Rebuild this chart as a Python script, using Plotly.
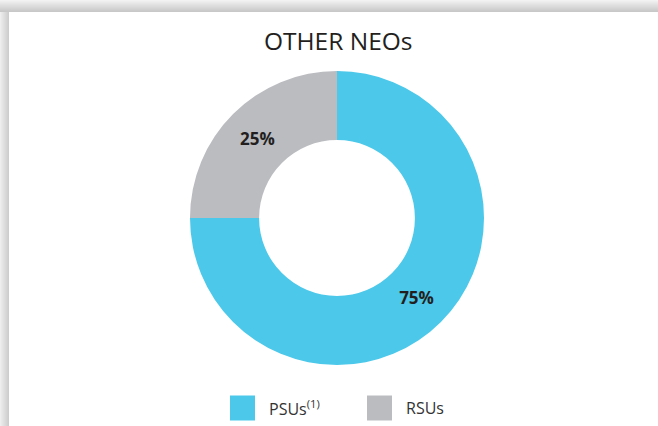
import plotly.graph_objects as go

labels = ["PSUs", "RSUs"]
legend_text = ["PSUs<sup>(1)</sup>", "RSUs"]
values = [75, 25]
colors = ["#4BC8EA", "#BBBCC0"]
title = "OTHER NEOs"

W, H = 658, 426

fig = go.Figure()
fig.add_trace(go.Pie(
    labels=labels, values=values, sort=False, direction="clockwise", rotation=0,
    hole=0.53,
    marker=dict(colors=colors, line=dict(width=0)),
    textinfo="percent", texttemplate="%{percent:.0%}",
    textposition="inside", insidetextorientation="horizontal",
    textfont=dict(family="Open Sans", size=17, color="#231F20", weight="bold"),
    domain=dict(x=[190 / W, 484 / W], y=[61 / H, 355 / H]),
    showlegend=False, hoverinfo="label+percent",
))

shapes = []
# shadow frame (top and left), approximated with graded strips
top_h, left_w = 12, 9
for i in range(top_h):
    g = int(242 - (242 - 200) * (i / (top_h - 1)))
    c = f"rgb({g},{g},{g})"
    shapes.append(dict(type="rect", xref="paper", yref="paper", x0=0, x1=1,
                       y0=1 - (i + 1) / H, y1=1 - i / H, fillcolor=c, line=dict(width=0), layer="below"))
for i in range(left_w):
    g = int(238 - (238 - 205) * (i / (left_w - 1)))
    c = f"rgb({g},{g},{g})"
    shapes.append(dict(type="rect", xref="paper", yref="paper", x0=i / W, x1=(i + 1) / W,
                       y0=0, y1=1 - top_h / H, fillcolor=c, line=dict(width=0), layer="below"))

# custom legend: squares and labels
leg_x = [230, 367]
sq = 25
yc = 408
annotations = []
for lx, col, txt in zip(leg_x, colors, legend_text):
    shapes.append(dict(type="rect", xref="paper", yref="paper",
                       x0=lx / W, x1=(lx + sq) / W, y0=(H - yc - sq / 2) / H, y1=(H - yc + sq / 2) / H,
                       fillcolor=col, line=dict(width=0)))
    annotations.append(dict(text=txt, xref="paper", yref="paper", x=(lx + sq + 12) / W, y=(H - yc) / H,
                            xanchor="left", yanchor="middle", showarrow=False,
                            font=dict(family="Open Sans", size=16, color="#333333")))

annotations.append(dict(text=title, xref="paper", yref="paper", x=338 / W, y=(H - 40) / H,
                        xanchor="center", yanchor="middle", showarrow=False,
                        font=dict(family="Open Sans", size=24.5, color="#231F20")))

fig.update_layout(
    width=W, height=H, margin=dict(l=0, r=0, t=0, b=0),
    paper_bgcolor="white", plot_bgcolor="white",
    shapes=shapes, annotations=annotations,
)
fig.write_html("out.html", config={"displayModeBar": False},
               post_script="document.body.style.margin='0';document.body.style.overflow='hidden';")
